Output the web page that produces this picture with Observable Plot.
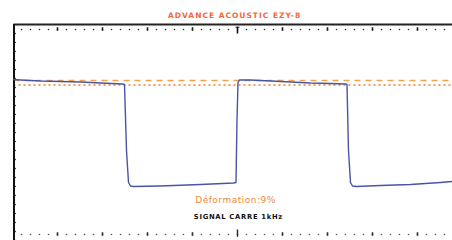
<!DOCTYPE html>
<html>
<head>
<meta charset="utf-8">
<script src="https://cdn.jsdelivr.net/npm/d3@7"></script>
<script src="https://cdn.jsdelivr.net/npm/@observablehq/plot@0.6"></script>
<style>
  html, body { margin: 0; padding: 0; background: #fff; }
  #chart svg { display: block; background: linear-gradient(to right, #ecd6c8 0px, #f4e6dc 5px, #fbf6f2 9px, #fefefe 12px, #fdfdfd 100%); }
  .lbl-title text { letter-spacing: 1.0px; }
  .lbl-dist text { letter-spacing: 0.5px; }
  .lbl-signal text { letter-spacing: 0.7px; }
</style>
</head>
<body>
<div id="chart"></div>
<script>
// Time (ms, 0 = screen centre) and level (divisions) of the traced square wave
const waveT = [-0.9956, -0.9644, -0.8756, -0.7867, -0.6978, -0.6089, -0.5111, -0.5022, -0.4933, -0.4844, -0.4756, -0.4622,
  -0.3422, -0.1644, -0.0178, -0.0067, -0.0022, 0.0022, 0.0089, 0.0578, 0.1467, 0.2356, 0.3244, 0.4133, 0.48,
  0.4867, 0.4933, 0.5022, 0.5111, 0.5289, 0.6356, 0.7689, 0.9022, 0.9556];
const waveV = [1.178, 1.167, 1.144, 1.133, 1.122, 1.1, 1.078, 1.067, -0.4, -1.111, -1.189, -1.2,
  -1.189, -1.156, -1.122, -1.111, 0.267, 1.111, 1.167, 1.167, 1.144, 1.122, 1.1, 1.089, 1.078,
  1.067, -0.4, -1.111, -1.189, -1.2, -1.178, -1.156, -1.111, -1.089];

// Reference levels
const dashedLevel = 1.156;
const dottedLevel = 1.056;

// Graticule
const xDomain = [-1, 0.9556];
const yDomain = [-2.4, 2.9333];
const frameLeft = -0.9933;
const frameTop = 2.4;
const topRow = 2.289;
const bottomRow = -2.267;
const minorX = d3.range(-0.96, 0.93, 0.04).map(v => +v.toFixed(2));
const majorX = [-0.8, -0.6, -0.4, -0.2, 0.2, 0.4, 0.6, 0.8];
const centreX = [0];
const leftTicks = d3.range(-2.4, 2.4, 0.2).map(v => +v.toFixed(2));

// Labels
const titleText = "ADVANCE ACOUSTIC EZY-8";
const distortionText = "Déformation:9%";
const signalText = "SIGNAL CARRE 1kHz";
const titlePos = [-0.013, 2.6];
const distortionPos = [-0.009, -1.511];
const signalPos = [0.004, -1.867];

const wave = waveT.map((t, i) => ({t, v: waveV[i]}));

const chart = Plot.plot({
  width: 452,
  height: 240,
  marginLeft: 12,
  marginRight: 0,
  marginTop: 0,
  marginBottom: 0,
  style: {background: "transparent", overflow: "visible"},
  x: {domain: xDomain, axis: null},
  y: {domain: yDomain, axis: null},
  marks: [
    // reference levels
    Plot.ruleY([dashedLevel], {x1: frameLeft, x2: xDomain[1], stroke: "#f2a24a", strokeWidth: 1.4, strokeDasharray: "6,5"}),
    Plot.ruleY([dottedLevel], {x1: frameLeft, x2: xDomain[1], stroke: "#ef7d30", strokeWidth: 1.3, strokeDasharray: "2,3"}),
    // graticule dots
    Plot.dot(minorX, {x: d => d, y: topRow, r: 0.8, fill: "#333", stroke: null}),
    Plot.dot(minorX, {x: d => d, y: bottomRow, r: 0.8, fill: "#555", stroke: null}),
    Plot.ruleX(majorX, {y1: topRow - 0.04, y2: topRow + 0.04, stroke: "#222", strokeWidth: 1.6}),
    Plot.ruleX(majorX, {y1: bottomRow - 0.04, y2: bottomRow + 0.04, stroke: "#333", strokeWidth: 1.6}),
    Plot.ruleX(centreX, {y1: topRow - 0.1, y2: topRow + 0.05, stroke: "#111", strokeWidth: 1.6}),
    Plot.ruleX(centreX, {y1: topRow + 0.03, y2: topRow + 0.05, stroke: "#111", strokeWidth: 4}),
    Plot.ruleX(centreX, {y1: bottomRow - 0.06, y2: bottomRow + 0.1, stroke: "#222", strokeWidth: 1.4}),
    // frame
    Plot.ruleY([frameTop], {x1: frameLeft, x2: xDomain[1], stroke: "#222", strokeWidth: 1.8}),
    Plot.ruleX([frameLeft], {y1: yDomain[0], y2: frameTop, stroke: "#111", strokeWidth: 2}),
    Plot.ruleY(leftTicks, {x1: frameLeft, x2: frameLeft + 0.01, stroke: "#111", strokeWidth: 1.3}),
    // square wave
    Plot.line(wave, {x: "t", y: "v", stroke: "#4a54a6", strokeWidth: 1.4, curve: "linear"}),
    // labels
    Plot.text([titleText], {x: titlePos[0], y: titlePos[1], text: d => d, fill: "#f0683a", fontSize: 7.5, fontWeight: "bold", fontFamily: "DejaVu Sans", className: "lbl-title"}),
    Plot.text([distortionText], {x: distortionPos[0], y: distortionPos[1], text: d => d, fill: "#f08a3a", fontSize: 9, fontFamily: "DejaVu Sans", className: "lbl-dist"}),
    Plot.text([signalText], {x: signalPos[0], y: signalPos[1], text: d => d, fill: "#111", fontSize: 6.8, fontWeight: "bold", fontFamily: "DejaVu Sans", className: "lbl-signal"})
  ]
});
document.getElementById("chart").appendChild(chart);
</script>
</body>
</html>
